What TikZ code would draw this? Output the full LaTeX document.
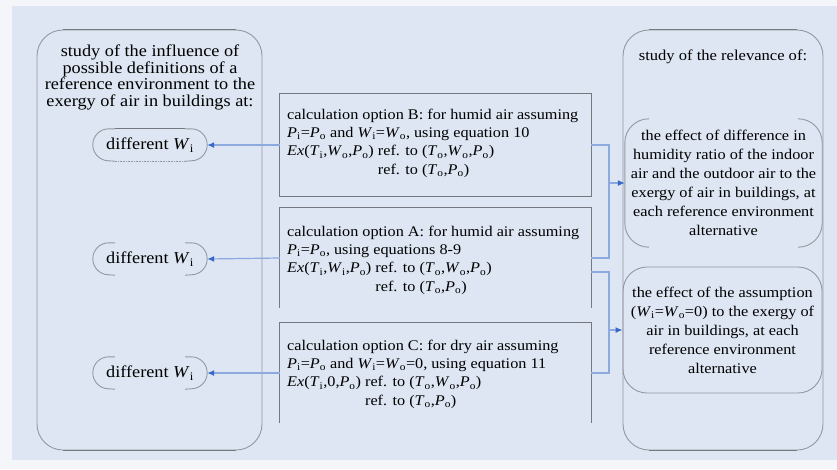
\documentclass[tikz,border=0pt]{standalone}
\usepackage{fontspec}
\setmainfont{Liberation Serif}[FakeStretch=1.1]
\usetikzlibrary{arrows.meta}
\definecolor{bgblue}{RGB}{221,230,242}
\definecolor{outerbg}{RGB}{244,246,250}
\definecolor{edge}{RGB}{118,120,128}
\definecolor{edgelight}{RGB}{150,152,160}
\definecolor{connblue}{RGB}{140,170,222}
\definecolor{tipblue}{RGB}{55,105,200}
\newcommand{\vi}[2]{\textit{#1}\textsubscript{#2}}
\newcommand{\midsize}{\fontsize{14.75}{18.4}\selectfont}
\newcommand{\sidesize}{\fontsize{16.6}{16.6}\selectfont}
\newcommand{\titsize}{\fontsize{15.05}{18}\selectfont}
\newcommand{\rsize}{\fontsize{14.8}{19}\selectfont}
\begin{document}
\begin{tikzpicture}[x=1pt,y=-1pt,
  bigbox/.style={draw=edgelight, line width=0.9pt, rounded corners=26pt, inner sep=0pt},
  optbox/.style={draw=none, minimum width=311pt, minimum height=100pt, inner sep=0pt},
  optline/.style={draw=edge, line width=0.9pt},
  opttext/.style={anchor=north west, inner sep=0pt, align=left, font=\midsize},
  pill/.style={minimum width=114pt, minimum height=32pt, inner sep=0pt, font=\sidesize},
  pillarc/.style={draw=edgelight, line width=0.9pt},
  relbox/.style={inner sep=0pt, align=center, font=\rsize},
  conn/.style={draw=connblue, line width=1.2pt},
  arr/.style={draw=connblue, line width=1.2pt, -{Latex[length=7pt,width=6pt,color=tipblue]}}
]
\useasboundingbox (0,0) rectangle (837,469);
\fill[outerbg] (0,0) rectangle (837,469);
\fill[bgblue] (12,6) rectangle (837,460);

% left study box
\node[bigbox, minimum width=225pt, minimum height=420pt] (L) at (149.5,240) {};
\draw[edge, line width=1.1pt] ([xshift=26pt]L.north west) -- ([xshift=-26pt]L.north east);
\draw[edge, line width=1.1pt] ([xshift=26pt]L.south west) -- ([xshift=-26pt]L.south east);
\node[font=\sidesize, align=center, inner sep=0pt] (Lt) at (150,77.5)
  {study of the influence of\\possible definitions of a\\reference environment to the\\exergy of air in buildings at:};

% pills
\node[pill] (P1) at (150,145) {different \vi{W}{i}};
\node[pill] (P2) at (150,259) {different \vi{W}{i}};
\node[pill] (P3) at (150,373) {different \vi{W}{i}};
\foreach \p in {P1,P2,P3}{
  \draw[pillarc] ([xshift=22pt]\p.north west) -- ([xshift=16pt]\p.north west)
     arc[start angle=90, end angle=270, radius=16pt] -- ([xshift=22pt]\p.south west);
  \draw[pillarc] ([xshift=-22pt]\p.north east) -- ([xshift=-16pt]\p.north east)
     arc[start angle=90, end angle=-90, radius=16pt] -- ([xshift=-22pt]\p.south east);
}
\draw[edge, line width=0.9pt] ([xshift=22pt]P1.north west) -- ([xshift=-22pt]P1.north east);
\draw[edgelight, line width=0.6pt, densely dotted] ([xshift=22pt]P1.south west) -- ([xshift=-22pt]P1.south east);

% option boxes
\node[optbox, minimum height=102pt] (B) at (435.5,145) {};
\draw[optline] (B.north west) rectangle (B.south east);
\node[opttext] (Bt) at (287,106) {\begin{tabular}{@{}l@{\ }l@{}}
\multicolumn{2}{@{}l@{}}{calculation option B: for humid air assuming}\\
\multicolumn{2}{@{}l@{}}{\vi{P}{i}=\vi{P}{o} and \vi{W}{i}=\vi{W}{o}, using equation 10}\\
\textit{Ex}(\vi{T}{i},\vi{W}{o},\vi{P}{o}) & ref. to (\vi{T}{o},\vi{W}{o},\vi{P}{o})\\
 & ref. to (\vi{T}{o},\vi{P}{o})
\end{tabular}};

\node[optbox] (A) at (435.5,258) {};
\draw[optline] (A.south west) -- (A.north west) -- (A.north east) -- (A.south east);
\node[opttext] (At) at (287,223) {\begin{tabular}{@{}l@{\ }l@{}}
\multicolumn{2}{@{}l@{}}{calculation option A: for humid air assuming}\\
\multicolumn{2}{@{}l@{}}{\vi{P}{i}=\vi{P}{o}, using equations 8-9}\\
\textit{Ex}(\vi{T}{i},\vi{W}{i},\vi{P}{o}) & ref. to (\vi{T}{o},\vi{W}{o},\vi{P}{o})\\
 & ref. to (\vi{T}{o},\vi{P}{o})
\end{tabular}};

\node[optbox] (C) at (435.5,373) {};
\draw[optline] (C.south west) -- (C.north west) -- (C.north east) -- (C.south east);
\node[opttext] (Ct) at (287,337) {\begin{tabular}{@{}l@{\ }l@{}}
\multicolumn{2}{@{}l@{}}{calculation option C: for dry air assuming}\\
\multicolumn{2}{@{}l@{}}{\vi{P}{i}=\vi{P}{o} and \vi{W}{i}=\vi{W}{o}=0, using equation 11}\\
\textit{Ex}(\vi{T}{i},0,\vi{P}{o}) & ref. to (\vi{T}{o},\vi{W}{o},\vi{P}{o})\\
 & ref. to (\vi{T}{o},\vi{P}{o})
\end{tabular}};

% right relevance box
\node[bigbox, minimum width=200pt, minimum height=420pt] (R) at (723,240) {};
\draw[edge, line width=1.1pt] ([xshift=26pt]R.north west) -- ([xshift=-26pt]R.north east);
\draw[edge, line width=1.1pt] ([xshift=26pt]R.south west) -- ([xshift=-26pt]R.south east);
\node[font=\titsize, inner sep=0pt] (Rt) at (723,57) {study of the relevance of:};
\node[relbox, minimum width=197pt, minimum height=128pt] (R1) at (723.5,183)
  {the effect of difference in\\humidity ratio of the indoor\\air and the outdoor air to the\\exergy of air in buildings, at\\each reference environment\\alternative};
\draw[pillarc] ([xshift=24pt]R1.north west) arc[start angle=90, end angle=180, radius=24pt]
  -- ([yshift=24pt]R1.south west) arc[start angle=180, end angle=270, radius=24pt];
\draw[pillarc] ([xshift=-24pt]R1.north east) arc[start angle=90, end angle=0, radius=24pt]
  -- ([yshift=24pt]R1.south east) arc[start angle=0, end angle=-90, radius=24pt];
\node[relbox, draw=edgelight, line width=0.9pt, rounded corners=24pt, minimum width=199pt, minimum height=126pt] (R2) at (722.5,330)
  {the effect of the assumption\\(\vi{W}{i}=\vi{W}{o}=0) to the exergy of\\air in buildings, at each\\reference environment\\alternative};

% left arrows
\draw[arr] (B.west) -- (P1.east);
\draw[arr] (A.west) -- (P2.east);
\draw[arr] (C.west) -- (P3.east);

% right brackets
\coordinate (j1) at (609,183);
\coordinate (j2) at (609,330);
\draw[conn] (B.east) -| (j1) |- (A.east);
\draw[conn] ([yshift=-14pt]A.east) -| (j2) |- (C.east);
\draw[arr] (j1) -- (R1.west);
\draw[arr] (j2) -- (R2.west);
\end{tikzpicture}
\end{document}
